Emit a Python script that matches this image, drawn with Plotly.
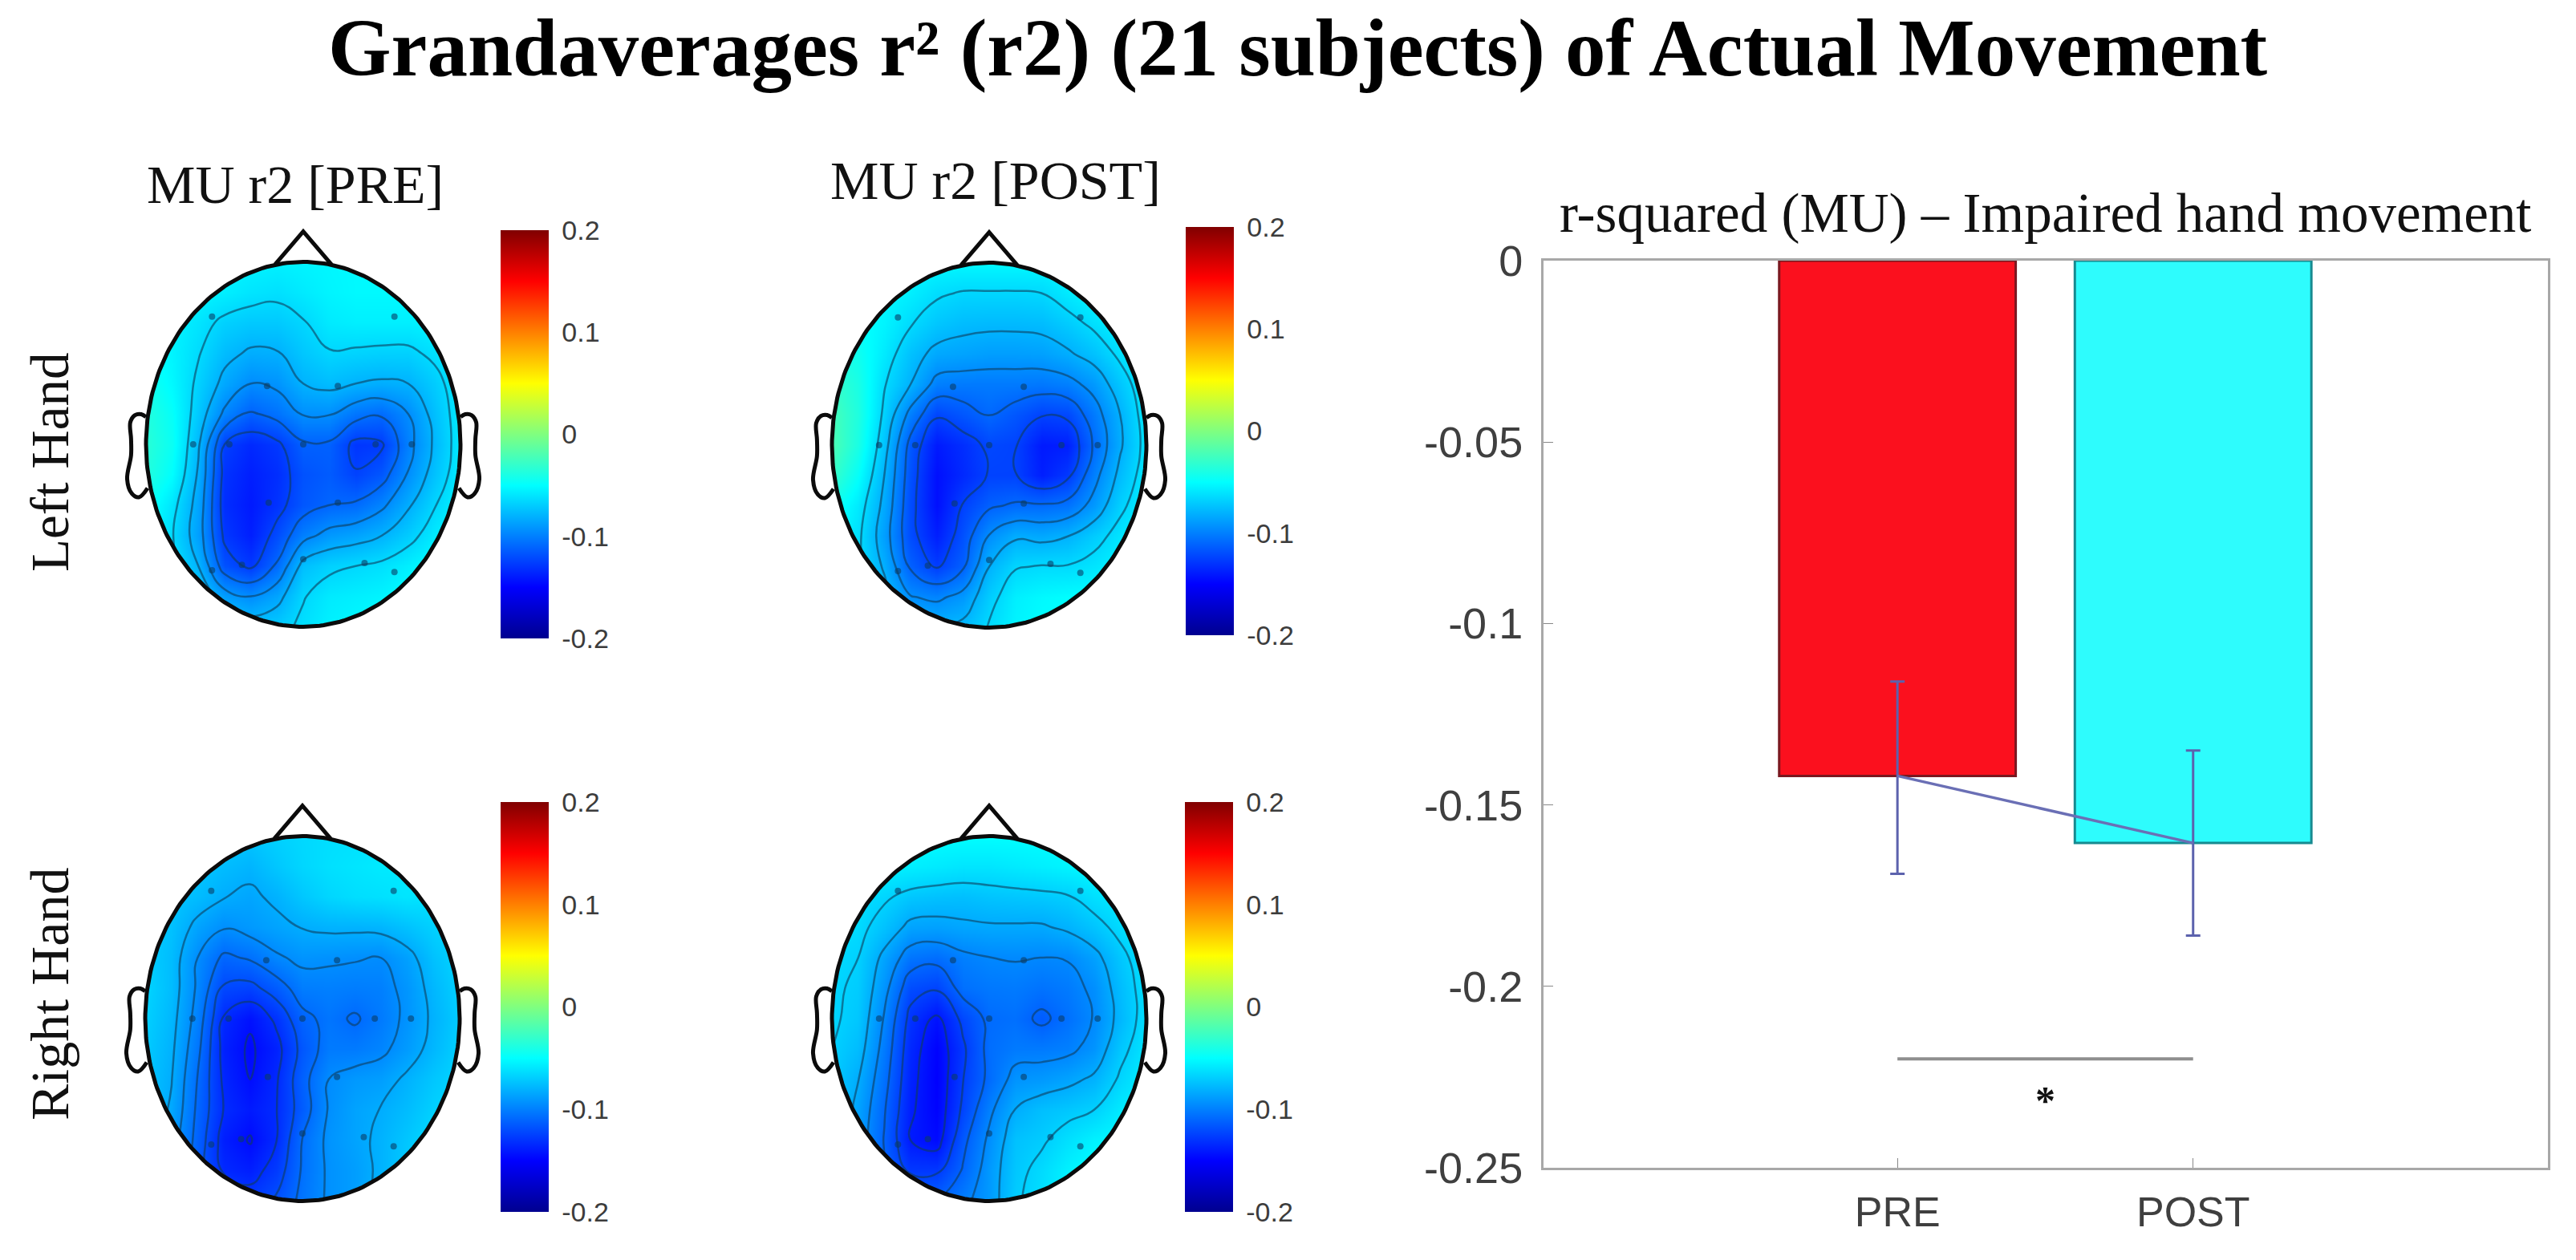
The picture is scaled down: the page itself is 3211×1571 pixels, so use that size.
import numpy as np
import plotly.graph_objects as go

W, H = 3211, 1571

# ---- data ----
GRID_X = [-1, -.833, -.667, -.5, -.333, -.167, 0, .167, .333, .5, .667, .833, 1]
GRID_Y = [1, .833, .667, .5, .333, .167, 0, -.167, -.333, -.5, -.667, -.833, -1]

LEFT_PRE = [
    [-.052,-.052,-.052,-.053,-.054,-.055,-.054,-.053,-.052,-.052,-.052,-.052,-.052],
    [-.052,-.052,-.053,-.056,-.060,-.062,-.058,-.054,-.052,-.052,-.052,-.052,-.052],
    [-.050,-.054,-.060,-.068,-.071,-.071,-.066,-.058,-.056,-.056,-.056,-.054,-.052],
    [-.048,-.054,-.064,-.076,-.082,-.081,-.072,-.066,-.067,-.068,-.068,-.062,-.055],
    [-.042,-.052,-.068,-.084,-.095,-.092,-.080,-.076,-.080,-.082,-.080,-.070,-.057],
    [-.036,-.048,-.072,-.098,-.112,-.105,-.094,-.094,-.104,-.108,-.095,-.075,-.058],
    [-.034,-.046,-.078,-.125,-.134,-.128,-.112,-.112,-.129,-.127,-.100,-.078,-.058],
    [-.036,-.050,-.082,-.130,-.138,-.132,-.118,-.114,-.124,-.116,-.094,-.074,-.057],
    [-.044,-.060,-.086,-.132,-.140,-.130,-.116,-.110,-.108,-.098,-.082,-.066,-.054],
    [-.050,-.064,-.088,-.128,-.138,-.120,-.100,-.090,-.086,-.080,-.070,-.058,-.052],
    [-.052,-.060,-.080,-.118,-.128,-.108,-.075,-.068,-.065,-.062,-.056,-.050,-.050],
    [-.050,-.058,-.068,-.088,-.095,-.085,-.066,-.058,-.056,-.054,-.050,-.048,-.048],
    [-.050,-.055,-.060,-.066,-.072,-.070,-.062,-.055,-.052,-.050,-.048,-.048,-.048],
]
LEFT_POST = [
    [-.052,-.052,-.052,-.052,-.052,-.052,-.052,-.052,-.052,-.052,-.052,-.052,-.052],
    [-.050,-.050,-.052,-.056,-.063,-.066,-.066,-.066,-.065,-.058,-.052,-.050,-.050],
    [-.044,-.048,-.054,-.064,-.072,-.076,-.077,-.077,-.076,-.070,-.062,-.055,-.050],
    [-.038,-.044,-.058,-.074,-.084,-.086,-.088,-.088,-.087,-.082,-.074,-.062,-.052],
    [-.028,-.040,-.064,-.080,-.100,-.102,-.102,-.102,-.103,-.100,-.090,-.072,-.056],
    [-.022,-.038,-.068,-.100,-.123,-.116,-.109,-.116,-.124,-.122,-.102,-.080,-.058],
    [-.020,-.040,-.074,-.115,-.140,-.132,-.122,-.124,-.140,-.138,-.108,-.082,-.060],
    [-.028,-.048,-.080,-.118,-.144,-.134,-.124,-.124,-.138,-.128,-.100,-.076,-.058],
    [-.042,-.058,-.084,-.120,-.144,-.124,-.112,-.108,-.108,-.105,-.090,-.068,-.056],
    [-.050,-.062,-.088,-.120,-.138,-.118,-.094,-.082,-.084,-.080,-.070,-.060,-.052],
    [-.052,-.062,-.082,-.112,-.126,-.112,-.080,-.066,-.064,-.064,-.060,-.054,-.050],
    [-.050,-.060,-.074,-.094,-.098,-.090,-.070,-.056,-.052,-.050,-.050,-.050,-.050],
    [-.050,-.058,-.066,-.075,-.078,-.076,-.064,-.054,-.050,-.050,-.050,-.050,-.050],
]
RIGHT_PRE = [
    [-.068,-.068,-.068,-.070,-.072,-.068,-.065,-.063,-.062,-.060,-.060,-.060,-.060],
    [-.070,-.070,-.072,-.076,-.079,-.072,-.066,-.062,-.060,-.058,-.058,-.060,-.060],
    [-.070,-.072,-.076,-.082,-.085,-.080,-.072,-.066,-.063,-.062,-.060,-.062,-.062],
    [-.070,-.074,-.086,-.094,-.090,-.086,-.082,-.080,-.080,-.079,-.074,-.068,-.064],
    [-.068,-.076,-.095,-.110,-.106,-.097,-.092,-.093,-.094,-.095,-.087,-.074,-.066],
    [-.066,-.076,-.097,-.122,-.124,-.114,-.101,-.100,-.101,-.100,-.091,-.078,-.068],
    [-.068,-.078,-.100,-.134,-.143,-.130,-.111,-.104,-.109,-.102,-.092,-.080,-.070],
    [-.070,-.080,-.104,-.137,-.147,-.137,-.116,-.102,-.102,-.098,-.089,-.078,-.068],
    [-.072,-.082,-.108,-.135,-.145,-.134,-.112,-.095,-.090,-.088,-.080,-.072,-.066],
    [-.074,-.084,-.110,-.133,-.140,-.133,-.114,-.094,-.086,-.082,-.076,-.068,-.064],
    [-.076,-.088,-.112,-.138,-.146,-.133,-.107,-.092,-.086,-.080,-.072,-.064,-.062],
    [-.076,-.090,-.114,-.134,-.138,-.127,-.106,-.093,-.088,-.080,-.070,-.064,-.062],
    [-.076,-.090,-.108,-.122,-.126,-.118,-.104,-.093,-.088,-.078,-.070,-.064,-.060],
]
RIGHT_POST = [
    [-.050,-.050,-.050,-.050,-.050,-.050,-.050,-.050,-.050,-.050,-.050,-.050,-.050],
    [-.054,-.054,-.055,-.056,-.058,-.060,-.060,-.058,-.056,-.054,-.052,-.052,-.052],
    [-.060,-.062,-.066,-.072,-.074,-.075,-.073,-.072,-.071,-.069,-.062,-.058,-.054],
    [-.062,-.064,-.074,-.086,-.087,-.085,-.084,-.084,-.084,-.080,-.073,-.064,-.056],
    [-.064,-.068,-.086,-.104,-.107,-.100,-.097,-.096,-.097,-.096,-.087,-.072,-.060],
    [-.066,-.070,-.092,-.120,-.124,-.106,-.103,-.102,-.105,-.102,-.094,-.076,-.062],
    [-.066,-.072,-.098,-.130,-.143,-.122,-.108,-.106,-.114,-.106,-.096,-.078,-.062],
    [-.068,-.076,-.102,-.134,-.149,-.128,-.107,-.102,-.102,-.100,-.092,-.072,-.060],
    [-.070,-.082,-.106,-.136,-.150,-.126,-.108,-.092,-.090,-.086,-.080,-.066,-.056],
    [-.070,-.086,-.110,-.138,-.149,-.123,-.100,-.082,-.075,-.072,-.068,-.058,-.054],
    [-.070,-.088,-.112,-.140,-.146,-.115,-.094,-.074,-.070,-.062,-.055,-.052,-.050],
    [-.070,-.086,-.110,-.128,-.128,-.110,-.090,-.072,-.064,-.055,-.050,-.050,-.050],
    [-.070,-.085,-.100,-.110,-.110,-.100,-.090,-.070,-.062,-.054,-.050,-.050,-.050],
]

ELECTRODE_X = [-.58,.58,-.23,.22,-.70,-.47,0,.46,.69,-.22,.22,-.58,-.39,0,.39,.58]
ELECTRODE_Y = [.70,.70,.32,.32,0,0,0,0,0,-.32,-.32,-.69,-.66,-.63,-.65,-.70]

COLORBAR_TICKS = [-.2, -.1, 0, .1, .2]
COLORBAR_LABELS = ["-0.2", "-0.1", "0", "0.1", "0.2"]

BAR_CATEGORIES = ["PRE", "POST"]
BAR_POS = [1, 2]
BAR_VALUES = [-.142, -.1605]
BAR_ERR_UP = [.026, .0255]
BAR_ERR_DOWN = [.027, .0255]
SIG_Y = -.22
STAR_X, STAR_Y = 1.5, -.2325
Y_TICKS = [0, -.05, -.1, -.15, -.2, -.25]
Y_LABELS = ["0", "-0.05", "-0.1", "-0.15", "-0.2", "-0.25"]

JET = [[0, "rgb(0,0,143)"], [.125, "rgb(0,0,255)"], [.375, "rgb(0,255,255)"],
       [.625, "rgb(255,255,0)"], [.875, "rgb(255,0,0)"], [1, "rgb(128,0,0)"]]

# ---- layout helpers ----
def fx(p): return p / W
def fy(p): return 1 - p / H

fig = go.Figure()
SPAN = 1.2
heads = [
    (LEFT_PRE,  378, 554, 624, 287, 796, "x",  "y",  -.125, -.064, .015),
    (LEFT_POST, 1233, 555, 1478, 283, 792, "x2", "y2", -.125, -.064, .015),
    (RIGHT_PRE, 377, 1270, 624, 1000, 1511, "x3", "y3", -.145, -.08, .0125),
    (RIGHT_POST, 1233, 1270, 1477, 1000, 1511, "x4", "y4", -.14, -.066, .0144),
]
RX, RY = 196, 227.5
theta = np.linspace(0, 2 * np.pi, 241)
cx, cy = np.cos(theta), np.sin(theta)
R = 1.1
mask_x = np.concatenate([cx, [1, R, R, -R, -R, R, R, 1]])
mask_y = np.concatenate([-cy, [0, 0, R, R, -R, -R, 0, 0]])
EAR_X = [-1.00,-1.03,-1.07,-1.10,-1.095,-1.095,-1.12,-1.09,-1.045,-.99]
EAR_Y = [.15,.165,.16,.12,.03,-.06,-.19,-.27,-.29,-.24]
NOSE_X = [-.18, 0, .18]
NOSE_Y = [.985, 1.167, .985]
INK = "#0b0b0b"

layout_axes = {}
for i, (z, px, py, cbx, cbt, cbb, xa, ya, lv0, lv1, lvs) in enumerate(heads):
    suffix = "" if i == 0 else str(i + 1)
    layout_axes["xaxis" + suffix] = dict(domain=[fx(px - SPAN * RX), fx(px + SPAN * RX)], range=[-SPAN, SPAN],
                                         visible=False, fixedrange=True)
    layout_axes["yaxis" + suffix] = dict(domain=[fy(py + SPAN * RY), fy(py - SPAN * RY)], range=[-SPAN, SPAN],
                                         visible=False, fixedrange=True)
    fig.add_trace(go.Heatmap(x=GRID_X, y=GRID_Y, z=z, zmin=-.2, zmax=.2, colorscale=JET, zsmooth="best",
                             xaxis=xa, yaxis=ya, hoverinfo="skip",
                             colorbar=dict(x=fx(cbx), xanchor="left", y=fy(cbt), yanchor="top",
                                           thickness=60, thicknessmode="pixels",
                                           len=cbb - cbt, lenmode="pixels", xpad=0, ypad=0,
                                           outlinewidth=0, tickvals=COLORBAR_TICKS, ticktext=COLORBAR_LABELS,
                                           ticks="outside", ticklen=10, tickcolor="rgba(0,0,0,0)",
                                           tickfont=dict(family="Liberation Sans", size=34, color="#3c3c3c"))))
    fig.add_trace(go.Contour(x=GRID_X, y=GRID_Y, z=z, showscale=False, xaxis=xa, yaxis=ya, hoverinfo="skip",
                             autocontour=False, contours=dict(coloring="none", start=lv0, end=lv1, size=lvs),
                             line=dict(color="rgba(15,60,90,.6)", width=2.5, smoothing=1.3)))
    fig.add_trace(go.Scatter(x=mask_x, y=mask_y, mode="none", fill="toself", fillcolor="white",
                             xaxis=xa, yaxis=ya, hoverinfo="skip"))
    fig.add_trace(go.Scatter(x=cx, y=cy, mode="lines", line=dict(color=INK, width=5),
                             xaxis=xa, yaxis=ya, hoverinfo="skip"))
    for sign in (-1, 1):
        fig.add_trace(go.Scatter(x=[-v for v in EAR_X] if sign == 1 else EAR_X, y=EAR_Y, mode="lines",
                                 line=dict(color=INK, width=5, shape="spline"),
                                 xaxis=xa, yaxis=ya, hoverinfo="skip"))
    fig.add_trace(go.Scatter(x=NOSE_X, y=NOSE_Y, mode="lines", line=dict(color=INK, width=5),
                             xaxis=xa, yaxis=ya, hoverinfo="skip"))
    fig.add_trace(go.Scatter(x=ELECTRODE_X, y=ELECTRODE_Y, mode="markers",
                             marker=dict(size=8, color="rgba(10,60,100,.6)"),
                             xaxis=xa, yaxis=ya, hoverinfo="skip"))

# ---- bar panel ----
AX_L, AX_R, AX_T, AX_B = 1924, 3176, 325, 1456
GRAY = "#a8a8a8"
layout_axes["xaxis5"] = dict(domain=[fx(AX_L), fx(AX_R)], range=[-.197, 3.2], tickvals=BAR_POS, ticktext=BAR_CATEGORIES,
                             ticks="inside", ticklen=12, tickcolor="#888", showline=True, mirror=True,
                             linecolor=GRAY, linewidth=3, showgrid=False, zeroline=False, ticklabelstandoff=8,
                             tickfont=dict(family="Liberation Sans", size=52, color="#3f3f3f"), anchor="y5", fixedrange=True)
layout_axes["yaxis5"] = dict(domain=[fy(AX_B), fy(AX_T)], range=[-.25, 0], tickvals=Y_TICKS, ticktext=Y_LABELS,
                             ticks="inside", ticklen=12, tickcolor="#888", showline=True, mirror=True,
                             linecolor=GRAY, linewidth=3, showgrid=False, zeroline=False, ticklabelstandoff=12,
                             tickfont=dict(family="Liberation Sans", size=54, color="#3f3f3f"), anchor="x5", fixedrange=True)
fig.add_trace(go.Bar(x=BAR_POS, y=BAR_VALUES, width=.8, xaxis="x5", yaxis="y5",
                     marker=dict(color=["#fb101e", "#2efcfd"],
                                 line=dict(color=["#7a1820", "#178a90"], width=3))))
fig.add_trace(go.Scatter(x=BAR_POS, y=BAR_VALUES, mode="lines", xaxis="x5", yaxis="y5",
                         line=dict(color="#6a6fb5", width=3.5),
                         error_y=dict(type="data", symmetric=False, array=BAR_ERR_UP, arrayminus=BAR_ERR_DOWN,
                                      color="#5c62ad", thickness=3, width=9)))
fig.add_trace(go.Scatter(x=BAR_POS, y=[SIG_Y, SIG_Y], mode="lines", xaxis="x5", yaxis="y5",
                         line=dict(color="#8e8e8e", width=4)))
fig.add_trace(go.Scatter(x=[STAR_X], y=[STAR_Y], mode="text", text=["<b>*</b>"], textposition="middle center",
                         textfont=dict(family="Liberation Serif", size=50, color="#111"),
                         xaxis="x5", yaxis="y5"))

# ---- texts ----
def note(text, x, y, size, family="Liberation Serif", angle=0, color="#111"):
    return dict(text=text, x=fx(x), y=fy(y), xref="paper", yref="paper", showarrow=False,
                xanchor="center", yanchor="middle", textangle=angle,
                font=dict(family=family, size=size, color=color))

annotations = [
    note("<b>Grandaverages r² (r2) (21 subjects) of Actual Movement</b>", 1618, 60, 101, color="#000"),
    note("MU r2 [PRE]", 368, 230, 68),
    note("MU r2 [POST]", 1241, 225, 68),
    note("r-squared (MU) – Impaired hand movement", 2549, 266, 69),
    note("Left Hand", 62, 577, 67, angle=-90),
    note("Right Hand", 62, 1240, 68, angle=-90),
]

fig.update_layout(width=W, height=H, margin=dict(l=0, r=0, t=0, b=0, autoexpand=False), paper_bgcolor="white", plot_bgcolor="white",
                  showlegend=False, annotations=annotations, **layout_axes)
fig.write_html("out.html", config={"displayModeBar": False},
               post_script="document.body.style.margin='0';document.body.style.overflow='hidden';")
